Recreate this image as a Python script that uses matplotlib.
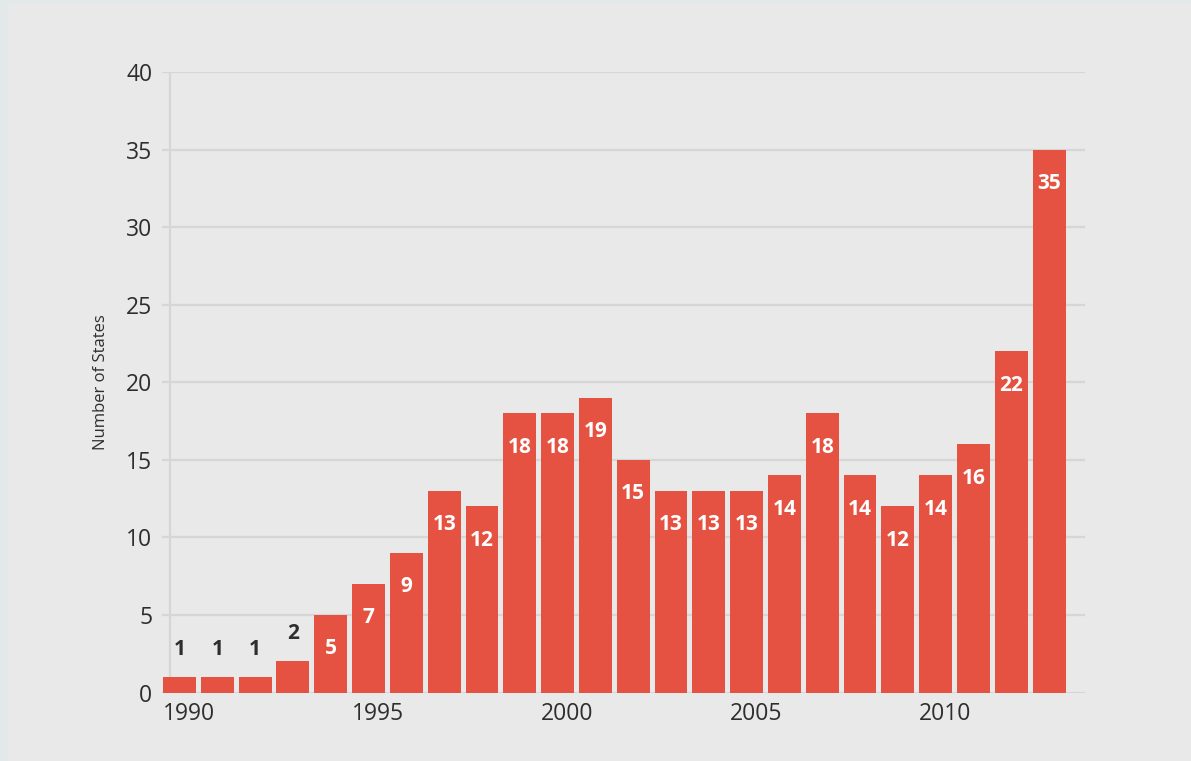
import matplotlib.pyplot as plt
from matplotlib.patches import Rectangle

years = list(range(1990, 2014))
states = [1, 1, 1, 2, 5, 7, 9, 13, 12, 18, 18, 19, 15, 13, 13, 13, 14, 18, 14, 12, 14, 16, 22, 35]
tick_years = [1990, 1995, 2000, 2005, 2010]
y_ticks = [0, 5, 10, 15, 20, 25, 30, 35, 40]

bar_color = "#e65241"
bg = "#e9e9e9"
grid_color = "#d6d6d6"
dark = "#2e2e2e"

plt.rcParams['font.family'] = ['Open Sans', 'DejaVu Sans']

fig = plt.figure(figsize=(11.91, 7.61), dpi=100, facecolor=bg)
# thin lighter frame at the left/top edges like the reference
fig.patches.append(Rectangle((0, 0), 7 / 1191, 1, transform=fig.transFigure,
                             color="#e3e8e9", zorder=0))
fig.patches.append(Rectangle((0, 1 - 3 / 761), 1, 3 / 761, transform=fig.transFigure,
                             color="#e3e8e9", zorder=0))

ax = fig.add_axes([162 / 1191, 1 - 692.5 / 761, (1085 - 162) / 1191, (692.5 - 72) / 761])
ax.set_facecolor(bg)

x = [y - 1990 for y in years]
ax.bar(x, states, width=0.87, color=bar_color, zorder=3)

# value labels: white inside tall bars, dark above the short ones
for xi, v in zip(x, states):
    if v >= 5:
        ax.annotate(str(v), (xi, v), xytext=(0, -24.5), textcoords='offset points',
                    ha='center', va='center', color='white', fontsize=15,
                    fontweight='bold', zorder=4)
    else:
        ax.annotate(str(v), (xi, v), xytext=(0, 20), textcoords='offset points',
                    ha='center', va='center', color=dark, fontsize=15,
                    fontweight='bold', zorder=4)

ax.set_xlim(-0.463, 23.95)
ax.set_ylim(0, 40)

for t in y_ticks:
    ax.axhline(t, color=grid_color, lw=1.6, zorder=1)
ax.plot([-0.25, -0.25], [0, 40], color=grid_color, lw=1.6, zorder=1)

for s in ax.spines.values():
    s.set_visible(False)

ax.set_yticks(y_ticks)
ax.set_yticklabels([str(t) for t in y_ticks], fontsize=16.5, color=dark)
ax.set_xticks([t - 1990 - 0.435 for t in tick_years])
ax.set_xticklabels([str(t) for t in tick_years], fontsize=16.5, color=dark, ha='left')
ax.tick_params(axis='both', length=0)
ax.tick_params(axis='y', pad=7)
ax.tick_params(axis='x', pad=7)

ax.set_ylabel("Number of States", fontsize=12, color=dark, labelpad=12)

fig.savefig("out.png", dpi=100, facecolor=bg)
